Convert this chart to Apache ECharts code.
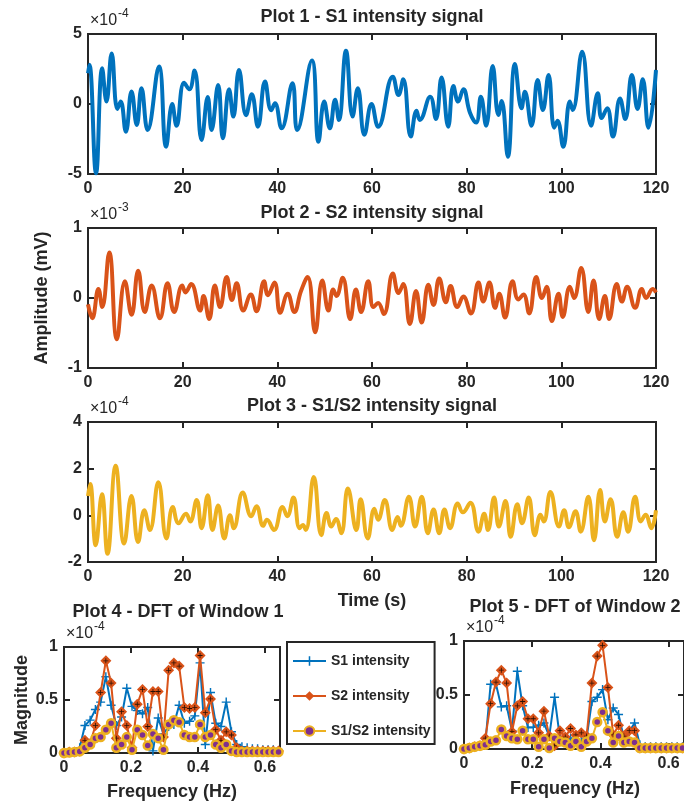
<!DOCTYPE html>
<html>
<head>
<meta charset="utf-8">
<script src="https://cdn.jsdelivr.net/npm/echarts@6/dist/echarts.min.js"></script>
<style>html,body{margin:0;padding:0;background:#fff;}#c{width:684px;height:805px;}</style>
</head>
<body>
<div id="c"></div>
<script>
// ---------- DATA ----------
// time-domain signals: [time (s), amplitude in units of the axis multiplier]
const s1Signal = [[0,2.2],[0.3,2.8],[1.7,-4.95],[3.0,2.55],[3.9,0.17],[5.0,3.6],[6.2,-0.36],[6.9,0.17],[8.0,-1.98],[9.2,0.9],[10.3,-1.5],[11.3,1.12],[12.6,-1.86],[15.0,2.67],[16.5,-3.05],[17.8,0.0],[18.7,-1.55],[20.3,1.52],[21.4,1.05],[22.5,2.4],[24.0,-2.57],[25.3,0.5],[26.1,-1.86],[27.5,1.36],[28.5,-2.45],[29.8,1.05],[30.7,-0.9],[31.9,2.43],[33.4,-0.8],[34.6,0.7],[35.9,-1.62],[37.4,1.6],[38.7,-0.45],[39.5,0.05],[40.9,-1.74],[43.2,1.48],[44.2,-1.86],[47.3,3.1],[48.7,-2.7],[49.9,0.17],[51.1,-1.74],[52.2,0.3],[53.0,-1.14],[54.5,3.8],[55.9,-0.9],[57.0,1.12],[58.4,-2.2],[59.9,0.0],[61.3,-1.62],[64.4,1.95],[65.6,0.64],[66.6,1.76],[68.2,-2.33],[69.4,-0.48],[70.1,-1.14],[72.3,0.52],[73.5,-1.07],[74.7,1.9],[76.1,-1.62],[77.2,1.29],[78.2,0.17],[79.3,1.05],[80.7,-0.62],[82.0,-1.33],[83.0,0.52],[84.1,-1.55],[85.5,2.71],[86.7,-0.79],[87.4,0.21],[88.7,-3.76],[90.2,2.86],[91.6,-0.31],[92.3,0.88],[93.7,-1.55],[95.0,1.71],[96.1,-0.43],[97.3,2.07],[98.5,-1.69],[99.2,-1.19],[100.4,-3.05],[101.8,0.17],[102.4,-0.43],[104.4,3.74],[106.3,-1.55],[107.7,0.76],[108.5,-1.0],[109.7,-0.31],[110.9,-2.33],[112.4,0.4],[113.5,-1.07],[114.9,2.07],[116.1,-0.36],[117.2,1.76],[118.4,-1.69],[120,2.43]];
const s2Signal = [[0,-0.09],[0.9,-0.29],[2.2,0.13],[3.0,-0.13],[4.5,0.65],[6.1,-0.59],[7.8,0.24],[9.2,-0.24],[10.6,0.39],[12.0,-0.2],[13.45,0.18],[15.2,-0.29],[16.8,0.21],[18.2,-0.2],[19.9,0.18],[20.6,0.08],[21.8,0.2],[23.7,-0.18],[24.4,0.03],[25.6,-0.3],[26.8,0.18],[27.9,-0.13],[29.3,0.3],[30.4,-0.03],[31.4,0.21],[32.8,-0.18],[34.4,0.05],[35.6,-0.19],[37.2,0.24],[38.0,0.04],[39.4,0.22],[40.6,-0.21],[42.2,0.06],[43.6,-0.2],[45.0,0.1],[46.4,0.3],[48.0,-0.49],[49.5,0.25],[50.8,-0.18],[51.8,0.12],[52.5,0.03],[53.8,0.29],[55.4,-0.3],[56.6,0.12],[57.7,-0.2],[59.2,0.24],[60.3,-0.13],[61.3,-0.07],[62.5,-0.23],[64.4,0.35],[65.6,0.07],[66.6,0.2],[68.0,-0.37],[69.3,0.1],[70.5,-0.35],[71.9,0.19],[73.0,-0.1],[74.2,0.28],[75.6,-0.06],[76.6,0.17],[78.0,-0.13],[79.3,0.02],[80.9,-0.22],[82.5,0.22],[83.5,-0.05],[84.8,0.22],[86.0,-0.14],[86.9,0.06],[88.1,-0.28],[89.7,0.24],[90.9,-0.02],[92.0,0.05],[93.2,-0.22],[94.7,0.3],[95.9,0.0],[96.9,0.16],[98.0,-0.33],[99.4,0.06],[100.3,-0.27],[101.8,0.16],[102.7,0.0],[104.2,0.43],[105.7,-0.2],[106.8,0.25],[108.0,-0.3],[109.2,0.03],[110.1,-0.3],[111.7,0.2],[112.8,-0.05],[113.9,0.16],[115.6,-0.14],[117.0,0.13],[117.9,0.0],[119.3,0.13],[120,0.08]];
const s3Signal = [[0,0.83],[0.47,1.34],[1.63,-1.28],[2.96,0.9],[4.12,-1.65],[5.84,2.12],[7.63,-1.21],[9.18,0.83],[10.58,-1.14],[11.9,0.22],[13.07,-0.63],[14.86,1.42],[16.58,-0.99],[17.9,0.36],[19.14,-0.34],[20.7,0.07],[21.6,-0.26],[22.96,0.66],[24.0,-0.55],[25.3,0.86],[26.3,-0.63],[27.5,0.42],[28.8,-0.99],[30.0,0.0],[30.8,-0.55],[32.7,0.98],[34.5,-0.04],[35.6,0.39],[37.0,-0.45],[37.8,-0.19],[39.3,-0.63],[41.1,0.36],[42.1,-0.04],[43.4,0.76],[44.7,-0.55],[45.4,-0.41],[46.0,-0.63],[47.7,1.64],[49.3,-0.85],[50.4,0.1],[51.4,-0.48],[52.4,-0.16],[53.5,-0.77],[54.9,1.15],[56.7,-0.63],[57.6,0.69],[59.1,-0.99],[60.5,0.28],[61.3,-0.19],[62.7,0.66],[64.3,-0.63],[65.4,-0.07],[66.1,-0.45],[67.8,0.8],[69.1,-0.48],[70.5,0.8],[71.8,-0.77],[73.0,0.25],[74.2,-0.77],[75.3,0.25],[76.5,-0.55],[78.1,0.51],[79.2,0.13],[80.8,0.54],[82.5,-0.7],[83.7,0.07],[84.5,-0.63],[85.8,0.76],[86.8,-0.48],[88.2,0.61],[89.3,-0.92],[90.7,0.47],[91.7,-0.34],[93.1,0.76],[94.4,-0.85],[95.6,0.03],[96.3,-0.26],[97.7,1.0],[99.5,-0.48],[100.6,0.22],[101.6,-0.51],[103.0,0.18],[104.1,-0.7],[105.7,0.8],[106.9,-1.07],[108.2,1.09],[109.2,-0.26],[110.4,0.69],[111.8,-0.92],[113.1,0.13],[114.1,-0.7],[115.6,0.8],[116.8,-0.26],[117.8,0.03],[119.0,-0.55],[120,0.22]];

// DFT frequency bins (Hz)
const freqHz = [0,0.0156,0.0313,0.0469,0.0625,0.0781,0.0938,0.1094,0.125,0.1406,0.1563,0.1719,0.1875,0.2031,0.2188,0.2344,0.25,0.2656,0.2813,0.2969,0.3125,0.3281,0.3438,0.3594,0.375,0.3906,0.4063,0.4219,0.4375,0.4531,0.4688,0.4844,0.5,0.5156,0.5313,0.5469,0.5625,0.5781,0.5938,0.6094,0.625,0.6406];
// Window 1 magnitudes (x1e-4)
const s1Win1 = [0,0.005,0.01,0.05,0.26,0.31,0.41,0.48,0.72,0.45,0.26,0.34,0.61,0.44,0.40,0.37,0.43,0.02,0.33,0.18,0.25,0.27,0.45,0.28,0.30,0.35,0.85,0.08,0.57,0.28,0.25,0.48,0.20,0.08,0.06,0.05,0.04,0.04,0.03,0.03,0.03,0.02];
const s2Win1 = [0,0.01,0.01,0.02,0.12,0.09,0.26,0.57,0.87,0.66,0.14,0.39,0.26,0.05,0.46,0.60,0.25,0.58,0.58,0.15,0.78,0.85,0.82,0.43,0.42,0.43,0.92,0.38,0.51,0.22,0.12,0.20,0.17,0.05,0.02,0.02,0.02,0.02,0.02,0.02,0.02,0.02];
const s3Win1 = [0,0.005,0.01,0.015,0.05,0.08,0.14,0.15,0.22,0.28,0.05,0.08,0.15,0.03,0.22,0.17,0.07,0.18,0.14,0.03,0.27,0.31,0.29,0.17,0.15,0.15,0.27,0.15,0.17,0.08,0.05,0.08,0.02,0.01,0.01,0.01,0.01,0.01,0.01,0.01,0.01,0.01];
// Window 2 magnitudes (x1e-4)
const s1Win2 = [0,0.01,0.02,0.03,0.05,0.6,0.6,0.39,0.4,0.17,0.72,0.4,0.2,0.2,0.22,0.24,0.12,0.48,0.1,0.07,0.1,0.08,0.07,0.1,0.44,0.48,0.55,0.27,0.38,0.32,0.1,0.16,0.24,0.04,0.02,0.02,0.02,0.02,0.02,0.02,0.02,0.02];
const s2Win2 = [0,0.01,0.02,0.03,0.1,0.42,0.62,0.73,0.61,0.16,0.4,0.44,0.28,0.28,0.15,0.35,0.12,0.03,0.17,0.11,0.19,0.13,0.15,0.12,0.61,0.86,0.96,0.57,0.13,0.22,0.12,0.17,0.17,0.01,0.01,0.01,0.01,0.01,0.01,0.01,0.01,0.01];
const s3Win2 = [0,0.01,0.02,0.03,0.04,0.07,0.08,0.18,0.12,0.1,0.09,0.17,0.09,0.09,0.02,0.09,0.01,0.1,0.07,0.06,0.03,0.07,0.02,0.07,0.1,0.25,0.34,0.17,0.06,0.12,0.06,0.07,0.06,0.01,0.01,0.01,0.01,0.01,0.01,0.01,0.01,0.01];

const seriesNames = ['S1 intensity', 'S2 intensity', 'S1/S2 intensity'];
const plotTitles = ['Plot 1 - S1 intensity signal', 'Plot 2 - S2 intensity signal', 'Plot 3 - S1/S2 intensity signal', 'Plot 4 - DFT of Window 1', 'Plot 5 - DFT of Window 2'];
const exponents = ['-4', '-3', '-4', '-4', '-4'];

// ---------- STYLE / LAYOUT ----------
const FONT = '"Liberation Sans", Arial, Helvetica, sans-serif';
const TXT = '#262626';
const BLUE = '#0072BD', RED = '#D95319', YEL = '#EDB120', PUR = '#7E2F8E';

const grids = [
  {left: 88, top: 34, width: 568, height: 140},
  {left: 88, top: 228, width: 568, height: 140},
  {left: 88, top: 422, width: 568, height: 140},
  {left: 64, top: 647, width: 216, height: 106},
  {left: 464, top: 641, width: 224, height: 108}
];
const yRanges = [[-5, 5, 5], [-1, 1, 1], [-2, 4, 2], [0, 1, 0.5], [0, 1, 0.5]];

const tickStyle = {show: true, inside: true, length: 6, lineStyle: {color: TXT, width: 2}};
const labelStyle = {color: TXT, fontSize: 16, fontWeight: 'bold', fontFamily: FONT};
const noLine = {show: false, onZero: false};

const xAxes = [], yAxes = [];
for (let i = 0; i < 5; i++) {
  const isTime = i < 3;
  const xBase = isTime ? {min: 0, max: 120, interval: 20} : {min: 0, max: 0.645, interval: 0.2};
  xAxes.push(Object.assign({type: 'value', gridIndex: i, position: 'bottom', axisLine: noLine,
    axisTick: tickStyle, splitLine: {show: false},
    axisLabel: Object.assign({margin: 7, showMaxLabel: isTime,
      formatter: v => isTime ? String(v) : (v === 0 ? '0' : String(+v.toFixed(1)))}, labelStyle)}, xBase));
  const [ymin, ymax, yint] = yRanges[i];
  yAxes.push({type: 'value', gridIndex: i, position: 'left', min: ymin, max: ymax, interval: yint,
    axisLine: noLine, axisTick: tickStyle, splitLine: {show: false},
    axisLabel: Object.assign({margin: 6}, labelStyle)});
}
for (let i = 0; i < 5; i++) {
  const isTime = i < 3;
  const xBase = isTime ? {min: 0, max: 120, interval: 20} : {min: 0, max: 0.645, interval: 0.2};
  xAxes.push(Object.assign({type: 'value', gridIndex: i, position: 'top', axisLine: noLine,
    axisTick: tickStyle, splitLine: {show: false}, axisLabel: {show: false}}, xBase));
  const [ymin, ymax, yint] = yRanges[i];
  yAxes.push({type: 'value', gridIndex: i, position: 'right', min: ymin, max: ymax, interval: yint,
    axisLine: noLine, axisTick: tickStyle, splitLine: {show: false}, axisLabel: {show: false}});
}

const plusPath = 'path://M0,0.42h1v0.16h-1z M0.42,0h0.16v1h-0.16z';

function signalSeries(idx, data, color) {
  return {type: 'line', xAxisIndex: idx, yAxisIndex: idx, data: data, showSymbol: false,
    smooth: 0.45, lineStyle: {color: color, width: 4}, itemStyle: {color: color}, silent: true, z: 3};
}
function dftSeries(idx, s1, s2, s3) {
  const pair = a => freqHz.map((f, k) => [f, a[k]]);
  return [
    {name: seriesNames[0], type: 'line', xAxisIndex: idx, yAxisIndex: idx, data: pair(s1),
      symbol: plusPath, symbolSize: 9, showAllSymbol: true,
      lineStyle: {color: BLUE, width: 2}, itemStyle: {color: BLUE}, z: 3},
    {name: seriesNames[1], type: 'line', xAxisIndex: idx, yAxisIndex: idx, data: pair(s2),
      symbol: 'diamond', symbolSize: 11, showAllSymbol: true,
      lineStyle: {color: RED, width: 2}, itemStyle: {color: RED}, z: 4},
    {type: 'scatter', xAxisIndex: idx, yAxisIndex: idx, data: pair(s2),
      symbol: plusPath, symbolSize: 5, itemStyle: {color: '#000'}, z: 5, silent: true},
    {name: seriesNames[2], type: 'line', xAxisIndex: idx, yAxisIndex: idx, data: pair(s3),
      symbol: 'circle', symbolSize: 8, showAllSymbol: true,
      lineStyle: {color: YEL, width: 2}, itemStyle: {color: PUR, borderColor: YEL, borderWidth: 2.5}, z: 6}
  ];
}

// text graphics
function txt(x, y, text, size, bold, align, rot) {
  return {type: 'text', x: x, y: y, rotation: rot || 0, z: 100,
    style: {text: text, font: (bold ? 'bold ' : '') + size + 'px ' + FONT, fill: TXT,
      textAlign: align || 'center', align: align || 'center', textVerticalAlign: 'middle', verticalAlign: 'middle'}};
}
const titlePos = [[372, 17], [372, 213], [372, 406], [178, 612], [575, 607]];
const expPos = [[90, 21], [90, 215], [90, 409], [66, 634], [466, 628]];
const graphics = [];
for (let i = 0; i < 5; i++) {
  graphics.push(txt(titlePos[i][0], titlePos[i][1], plotTitles[i], 18, true));
  graphics.push(txt(expPos[i][0], expPos[i][1], '\u00d710', 16, false, 'left'));
  graphics.push(txt(expPos[i][0] + 28, expPos[i][1] - 7, exponents[i], 12, false, 'left'));
}
graphics.push(txt(42, 298, 'Amplitude (mV)', 18, true, 'center', Math.PI / 2));
graphics.push(txt(372, 601, 'Time (s)', 18, true));
graphics.push(txt(22, 700, 'Magnitude', 18, true, 'center', Math.PI / 2));
graphics.push(txt(172, 792, 'Frequency (Hz)', 18, true));
graphics.push(txt(575, 789, 'Frequency (Hz)', 18, true));

const option = {
  animation: false,
  backgroundColor: '#fff',
  grid: grids.map(g => Object.assign({show: true, borderColor: TXT, borderWidth: 2, containLabel: false}, g)),
  xAxis: xAxes,
  yAxis: yAxes,
  legend: {
    data: seriesNames, orient: 'vertical', left: 287, top: 642,
    itemWidth: 33, itemHeight: 12, itemGap: 21,
    padding: [12, 4, 6, 5], borderColor: TXT, borderWidth: 2, backgroundColor: '#fff',
    textStyle: {color: TXT, fontSize: 14, fontWeight: 'bold', fontFamily: FONT}, selectedMode: false
  },
  series: [
    signalSeries(0, s1Signal, BLUE),
    signalSeries(1, s2Signal, RED),
    signalSeries(2, s3Signal, YEL)
  ].concat(dftSeries(3, s1Win1, s2Win1, s3Win1), dftSeries(4, s1Win2, s2Win2, s3Win2)),
  graphic: graphics
};
const chart = echarts.init(document.getElementById('c'), null, {renderer: 'canvas'});
chart.setOption(option);
</script>
</body>
</html>
